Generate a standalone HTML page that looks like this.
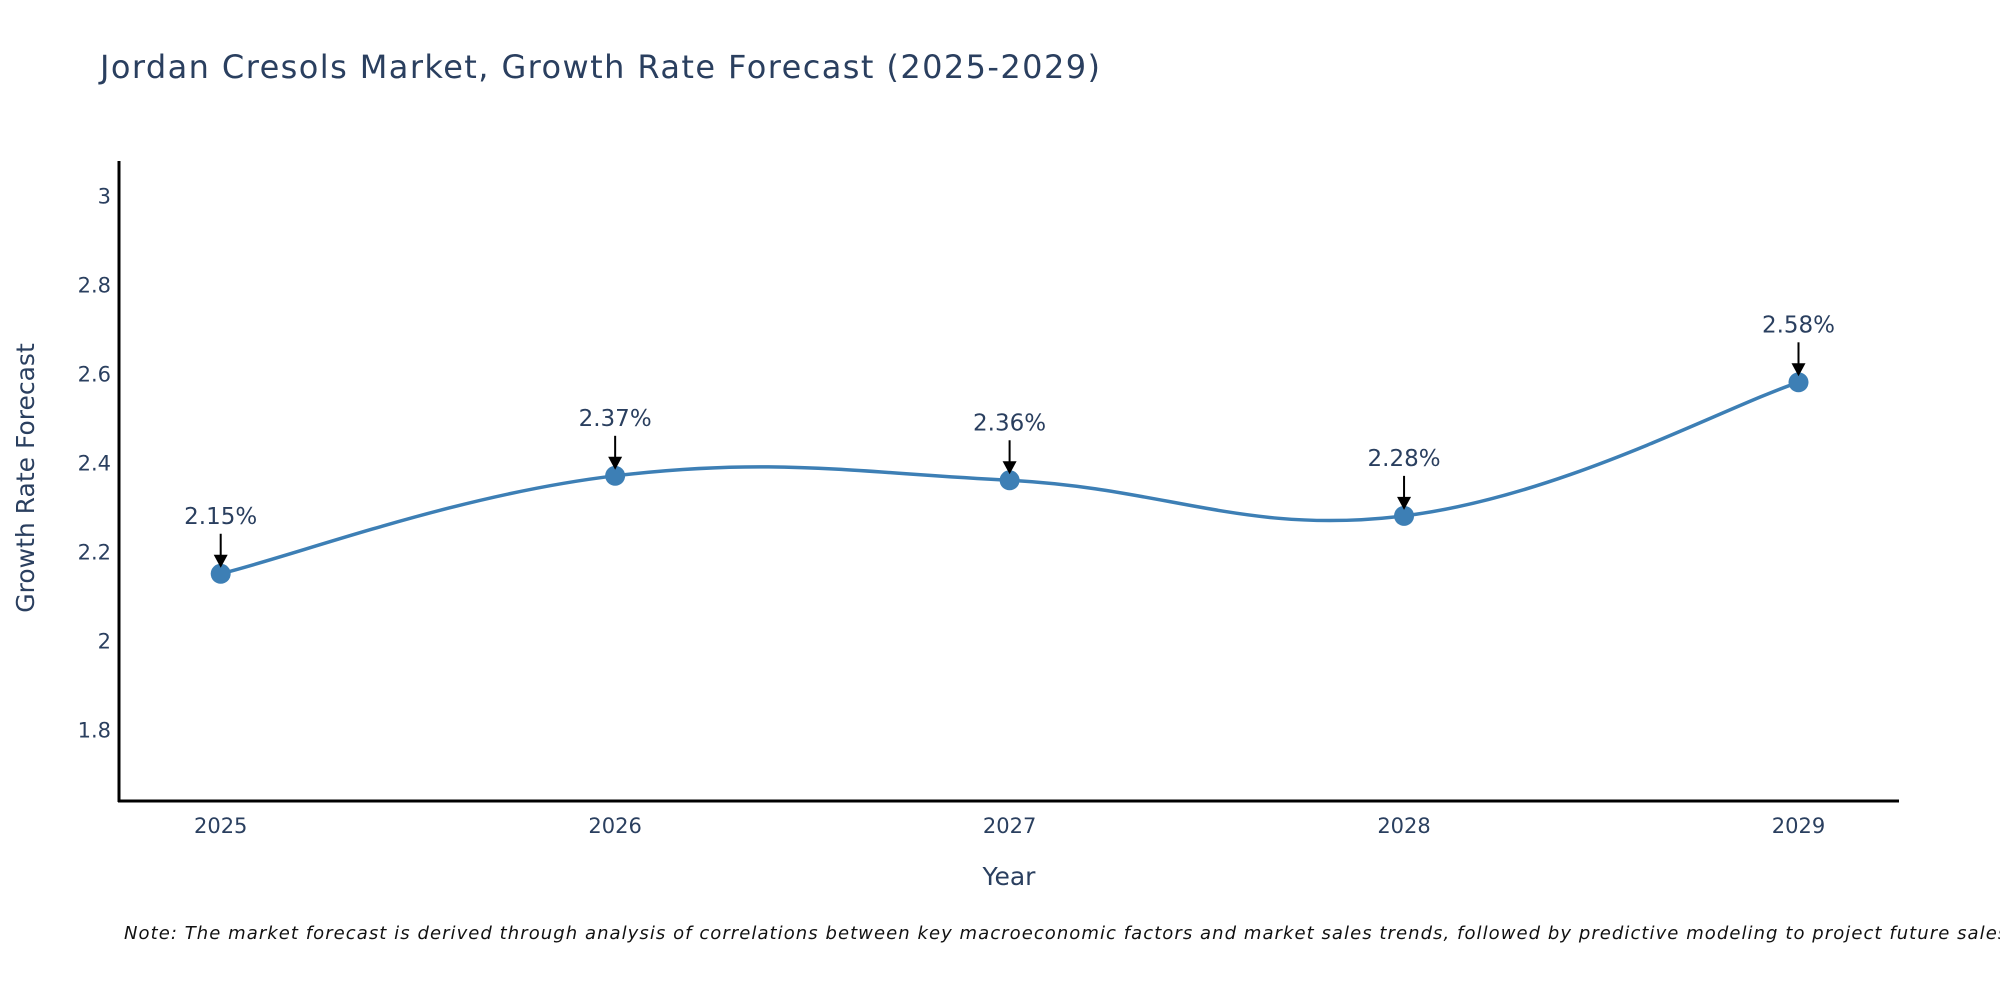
<!DOCTYPE html>
<html><head><meta charset="utf-8"><style>
html,body{margin:0;padding:0;background:#fff;overflow:hidden;}
svg text{font-family:"DejaVu Sans","Liberation Sans",sans-serif;fill:#2a3f5f;}
</style></head><body>
<svg id="chart" width="2000" height="1000" xmlns="http://www.w3.org/2000/svg">
<text x="100" y="78" font-size="32" textLength="1000">Jordan Cresols Market, Growth Rate Forecast (2025-2029)</text>
<g id="yticks"></g>
<g id="xticks"></g>
<line x1="119" y1="161" x2="119" y2="802" stroke="#000" stroke-width="3"/>
<line x1="118" y1="801" x2="1899" y2="801" stroke="#000" stroke-width="3"/>
<path id="line" fill="none" stroke="#3d7fb5" stroke-width="3.5"/>
<g id="points"></g>
<g id="annots"></g>
<text x="1009" y="885" font-size="25" text-anchor="middle">Year</text>
<text transform="translate(34,478) rotate(-90)" font-size="25" text-anchor="middle">Growth Rate Forecast</text>
<text x="124" y="939" font-size="18" font-style="italic" textLength="1890" style="fill:#111">Note: The market forecast is derived through analysis of correlations between key macroeconomic factors and market sales trends, followed by predictive modeling to project future sales.</text>
</svg>
<script>
const years=[2025,2026,2027,2028,2029];
const values=[2.15,2.37,2.36,2.28,2.58];
const labels=["2.15%","2.37%","2.36%","2.28%","2.58%"];
const yTicks=[1.8,2,2.2,2.4,2.6,2.8,3];
const NS="http://www.w3.org/2000/svg";
const x=v=>220.7+(v-2025)*(1798.5-220.7)/4;
const y=v=>729.6-(v-1.8)*(729.6-195.3)/1.2;
function mk(t,a,p){const e=document.createElementNS(NS,t);for(const k in a)e.setAttribute(k,a[k]);p.appendChild(e);return e;}
const yt=document.getElementById('yticks');
yTicks.forEach(v=>{const t=mk('text',{x:111,y:y(v)+8,'font-size':21,'text-anchor':'end'},yt);


t.textContent=String(v);});
const xt=document.getElementById('xticks');
years.forEach(v=>{const t=mk('text',{x:x(v),y:833,'font-size':21,'text-anchor':'middle'},xt);


t.textContent=String(v);});
const P=years.map((yr,i)=>[x(yr),y(values[i])]);
let d=`M${P[0][0]},${P[0][1]}`;
const s=0.2;
for(let i=0;i<P.length-1;i++){
const p0=P[Math.max(i-1,0)],p1=P[i],p2=P[i+1],p3=P[Math.min(i+2,P.length-1)];
const c1=[p1[0]+(p2[0]-p0[0])*s,p1[1]+(p2[1]-p0[1])*s];
const c2=[p2[0]-(p3[0]-p1[0])*s,p2[1]-(p3[1]-p1[1])*s];
d+=` C${c1[0]},${c1[1]} ${c2[0]},${c2[1]} ${p2[0]},${p2[1]}`;}
document.getElementById('line').setAttribute('d',d);
const pg=document.getElementById('points'),ag=document.getElementById('annots');
P.forEach((p,i)=>{
const c=mk('circle',{cx:p[0],cy:p[1],r:10,fill:'#3d7fb5'},pg);


const l=mk('line',{x1:p[0],y1:p[1]-40,x2:p[0],y2:p[1]-18,stroke:'#000','stroke-width':2},ag);


const h=mk('polygon',{points:`${p[0]-7},${p[1]-19} ${p[0]+7},${p[1]-19} ${p[0]},${p[1]-6}`,fill:'#000'},ag);


const t=mk('text',{x:p[0],y:p[1]-50,'font-size':23,'text-anchor':'middle'},ag);


t.textContent=labels[i];});
</script>
</body></html>
